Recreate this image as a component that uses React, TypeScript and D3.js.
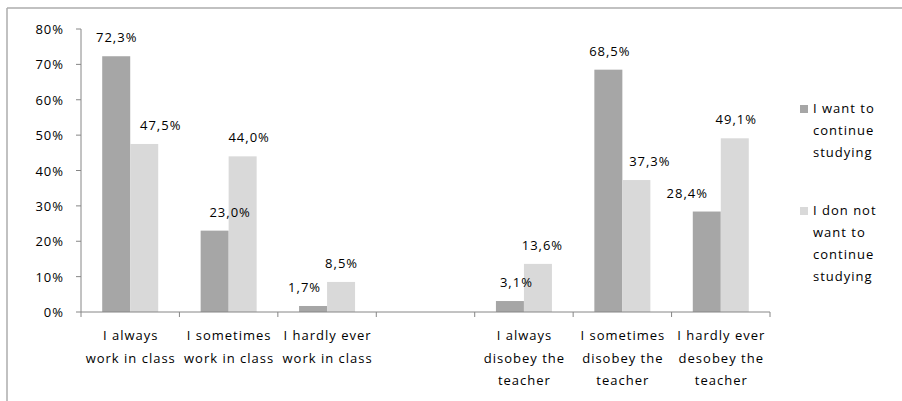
import React from "react";
import * as d3 from "d3";

const categories: string[][] = [
  ["I always", "work in class"],
  ["I sometimes", "work in class"],
  ["I hardly ever", "work in class"],
  [],
  ["I always", "disobey the", "teacher"],
  ["I sometimes", "disobey the", "teacher"],
  ["I hardly ever", "desobey the", "teacher"],
];
const seriesNames: string[][] = [
  ["I want to", "continue", "studying"],
  ["I don not", "want to", "continue", "studying"],
];
const wantValues: (number | null)[] = [72.3, 23.0, 1.7, null, 3.1, 68.5, 28.4];
const notWantValues: (number | null)[] = [47.5, 44.0, 8.5, null, 13.6, 37.3, 49.1];
const yTicks: number[] = [0, 10, 20, 30, 40, 50, 60, 70, 80];

// manual label nudges (layout, px)
const wantLabelDx = [0, 15, -9, 6, 6, 1, -20];
const notWantLabelDx = [16, 6, 0, 0, 4, 13, 1];

const colors = ["#a6a6a6", "#d9d9d9"];
const FONT = "'Open Sans', sans-serif";
const FS = 13;
const LS = 1;

export default function App() {
  const W = 902, H = 401;
  const x0 = 81, x1 = 770, yTop = 29, yBot = 312;
  const x = d3.scaleBand<number>().domain(d3.range(categories.length)).range([x0, x1]).paddingInner(0).paddingOuter(0);
  const y = d3.scaleLinear().domain([0, 80]).range([yBot, yTop]);
  const bw = x.bandwidth();
  const barW = 28;
  const series = [wantValues, notWantValues];
  const dxs = [wantLabelDx, notWantLabelDx];
  const fmt = (v: number) => v.toFixed(1).replace(".", ",") + "%";
  const boundaries = d3.range(categories.length + 1).map((i) => x0 + i * bw);

  return (
    <svg width={W} height={H} style={{ position: "absolute", left: 0, top: 0, background: "#fff" }} fontFamily={FONT} letterSpacing={LS}>
      <rect x={0} y={0} width={W} height={H} fill="#fff" />
      {/* frame */}
      <line x1={7} x2={W} y1={8} y2={8} stroke="#adadad" strokeWidth={1.5} />
      <line x1={7} x2={7} y1={8} y2={H} stroke="#adadad" strokeWidth={1.5} />
      {/* bars */}
      {series.map((vals, si) =>
        vals.map((v, i) => {
          if (v == null) return null;
          const bx = (x(i) as number) + bw / 2 - barW + si * barW;
          return (
            <rect key={`b${si}-${i}`} x={bx} y={y(v)} width={barW} height={yBot - y(v)} fill={colors[si]} />
          );
        })
      )}
      {/* y axis */}
      <line x1={x0} x2={x0} y1={yTop} y2={yBot} stroke="#868686" />
      {yTicks.map((t) => (
        <g key={`yt${t}`}>
          <line x1={x0 - 5} x2={x0} y1={y(t)} y2={y(t)} stroke="#868686" />
          <text x={64} y={y(t) + 5} textAnchor="end" fontSize={FS} fill="#000">
            {t}%
          </text>
        </g>
      ))}
      {/* x axis */}
      <line x1={x0} x2={x1} y1={yBot} y2={yBot} stroke="#868686" />
      {boundaries.map((b, i) => (
        <line key={`xt${i}`} x1={b} x2={b} y1={yBot} y2={yBot + 5} stroke="#868686" />
      ))}
      {categories.map((lines, i) => (
        <text key={`xl${i}`} textAnchor="middle" fontSize={FS} fill="#000">
          {lines.map((l, j) => (
            <tspan key={j} x={(x(i) as number) + bw / 2 + LS / 2} y={340 + j * 22.5}>
              {l}
            </tspan>
          ))}
        </text>
      ))}
      {/* data labels */}
      {series.map((vals, si) =>
        vals.map((v, i) => {
          if (v == null) return null;
          const cx = (x(i) as number) + bw / 2 - barW / 2 + si * barW + dxs[si][i] + LS / 2;
          return (
            <text key={`dl${si}-${i}`} x={cx} y={y(v) - 14} textAnchor="middle" fontSize={FS} fill="#000">
              {fmt(v)}
            </text>
          );
        })
      )}
      {/* legend */}
      {seriesNames.map((lines, si) => {
        const base = si === 0 ? 113 : 215;
        return (
          <g key={`lg${si}`}>
            <rect x={800} y={base - 8} width={8} height={8} fill={colors[si]} />
            <text fontSize={FS} fill="#000">
              {lines.map((l, j) => (
                <tspan key={j} x={813} y={base + j * 22}>
                  {l}
                </tspan>
              ))}
            </text>
          </g>
        );
      })}
    </svg>
  );
}
